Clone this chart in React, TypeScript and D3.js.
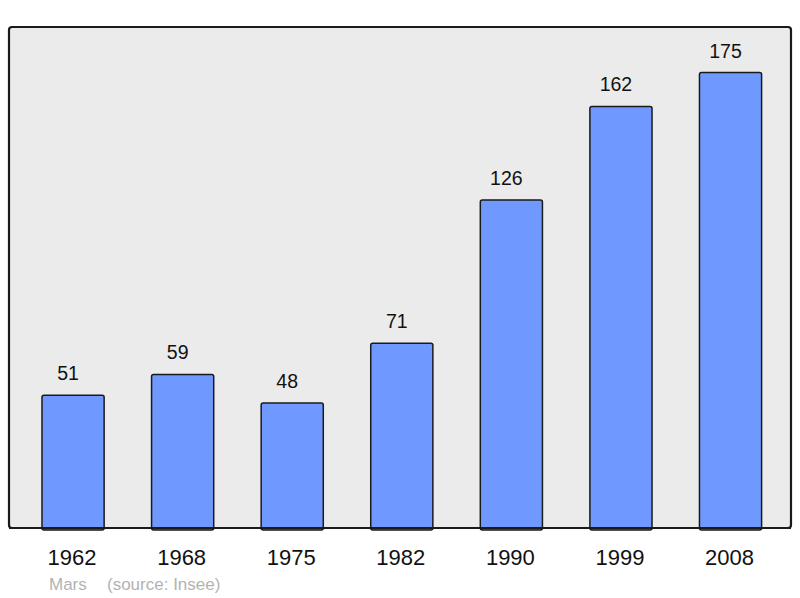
import * as d3 from "d3";

const WIDTH = 800;
const HEIGHT = 598;

const years = ["1962", "1968", "1975", "1982", "1990", "1999", "2008"];
const population = [51, 59, 48, 71, 126, 162, 175];
const caption = ["Mars", "(source: Insee)"];

const FRAME = { left: 9, top: 27, right: 791, bottom: 528 };

export default function App() {
  const x = d3
    .scaleBand<string>()
    .domain(years)
    .range([42, 761.6])
    .paddingInner(0.433)
    .paddingOuter(0);
  const y = d3
    .scaleLinear()
    .domain([0, d3.max(population)! * 1.1])
    .range([FRAME.bottom, FRAME.top]);

  return (
    <svg
      width={WIDTH}
      height={HEIGHT}
      style={{ position: "absolute", left: 0, top: 0, fontFamily: "'Liberation Sans', Arial, sans-serif" }}
    >
      <rect width={WIDTH} height={HEIGHT} fill="#ffffff" />
      <rect
        x={FRAME.left}
        y={FRAME.top}
        width={FRAME.right - FRAME.left}
        height={FRAME.bottom - FRAME.top}
        rx={3}
        fill="#ebebeb"
        stroke="#1a1a1a"
        strokeWidth={2.2}
      />
      <g className="bars">
        {years.map((year, i) => {
          const x0 = x(year)!;
          const top = y(population[i]);
          return (
            <g key={year}>
              <rect
                x={x0}
                y={top}
                width={x.bandwidth()}
                height={y(0) - top + 2}
                rx={2}
                fill="#7099ff"
                stroke="#1a1a1a"
                strokeWidth={1.5}
              />
              <text
                x={x0 + x.bandwidth() / 2 - 5}
                y={top - 15}
                textAnchor="middle"
                fontSize={19.5}
                fill="#111"
              >
                {population[i]}
              </text>
            </g>
          );
        })}
      </g>
      <rect x={FRAME.left} y={FRAME.bottom - 1} width={FRAME.right - FRAME.left} height={2} fill="#1a1a1a" />
      <g className="x-axis">
        {years.map((year) => (
          <text
            key={year}
            x={x(year)! + x.bandwidth() / 2 - 1}
            y={565}
            textAnchor="middle"
            fontSize={22}
            fill="#111"
          >
            {year}
          </text>
        ))}
      </g>
      <text x={49} y={590} fontSize={17} fill="#b3b3b3">
        {caption[0]}
      </text>
      <text x={107} y={590} fontSize={17} fill="#b3b3b3">
        {caption[1]}
      </text>
    </svg>
  );
}
